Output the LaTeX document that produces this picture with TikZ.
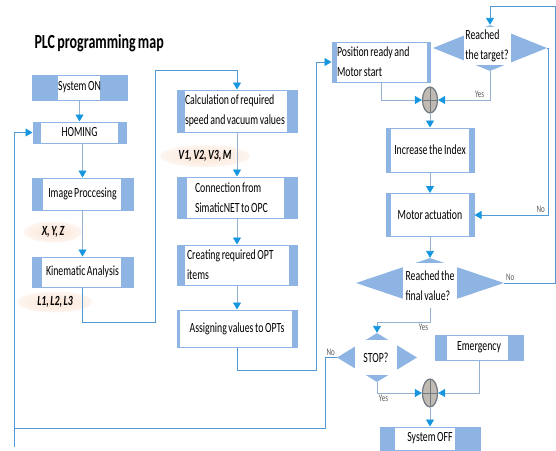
\documentclass[tikz,border=0pt]{standalone}
\usepackage{fontspec}
\setmainfont{Carlito}[FakeStretch=0.7, WordSpace=0.7]
\usetikzlibrary{arrows.meta, shapes.geometric, calc}
\definecolor{bandblue}{RGB}{142,180,227}
\definecolor{tipblue}{RGB}{22,150,222}
\definecolor{wiregray}{RGB}{150,176,210}
\definecolor{loopblue}{RGB}{82,152,214}
\definecolor{peach}{RGB}{251,228,212}
\definecolor{juncfill}{RGB}{192,186,178}
\definecolor{juncline}{RGB}{112,120,130}
\newcommand{\flowfont}{\fontsize{14}{20}\selectfont}

\begin{document}
\begin{tikzpicture}[x=1pt, y=-1pt, font=\flowfont,
    proc/.style 2 args={
        draw=bandblue, line width=1pt, fill=white, inner ysep=2pt,
        path picture={
            \fill[bandblue] (path picture bounding box.north west)
                rectangle ([xshift=#1]path picture bounding box.south west);
            \fill[bandblue] (path picture bounding box.north east)
                rectangle ([xshift=-#2]path picture bounding box.south east);
        }
    },
    decide/.style={diamond, fill=bandblue, inner sep=0pt},
    dtext/.style={fill=white, inner sep=1pt, align=flush left},
    junc/.style={
        ellipse, draw=juncline, line width=1.2pt, fill=juncfill,
        minimum width=15pt, minimum height=26pt, inner sep=0pt,
        path picture={
            \draw[juncline, line width=0.8pt] (path picture bounding box.north)
                -- (path picture bounding box.south);
            \draw[juncline, line width=0.8pt] (path picture bounding box.west)
                -- (path picture bounding box.east);
        }
    },
    tag/.style={ellipse, inner sep=0pt, inner color=peach, outer color=peach!35,
        font=\flowfont\bfseries\itshape},
    line/.style={wiregray, line width=0.9pt},
    signal/.style={line, -{Triangle[width=8pt, length=7pt, color=tipblue]}},
    backline/.style={signal, draw=loopblue},
    yn/.style={font=\fontsize{10}{12}\selectfont, text=black!65, inner sep=1.5pt},
]
\useasboundingbox (0,0) rectangle (556,450);

\node[anchor=base west, font=\fontsize{20}{24}\selectfont\bfseries] (title)
    at (31,48) {PLC programming map};

% --- left column: start up and vision ---
\node[proc={26pt}{27pt}, minimum width=95pt, minimum height=25pt] (son) at (79.5,87.5) {System ON};
\node[proc={8pt}{8pt}, minimum width=93pt, minimum height=21pt] (hom) at (79.5,132.5) {HOMING};
\node[proc={11pt}{12pt}, minimum width=101pt, minimum height=32pt] (img) at (82.5,194) {Image Proccesing};
\node[proc={10pt}{12pt}, minimum width=101pt, minimum height=30pt] (kin) at (82.5,272) {Kinematic Analysis};
\node[tag, minimum width=58pt, minimum height=21pt] (xyz) at (53,232) {X, Y, Z};
\node[tag, minimum width=75pt, minimum height=21pt] (lll) at (55,302) {L1, L2, L3};

% --- middle column: OPC link ---
\node[proc={8pt}{10pt}, text width=104pt, inner xsep=8pt, align=flush left, minimum height=42pt]
    (calc) at (237,111) {Calculation of required\\speed and vacuum values};
\node[tag, minimum width=90pt, minimum height=22pt] (vvv) at (205,156) {V1, V2, V3, M};
\node[proc={10pt}{13pt}, text width=84pt, inner xsep=18pt, align=flush left, minimum height=41pt]
    (conn) at (237,197.5) {Connection from\\SimaticNET to OPC};
\node[proc={8pt}{8pt}, text width=100pt, inner xsep=10pt, align=flush left, minimum height=40pt]
    (opt) at (237,265) {Creating required OPT\\items};
\node[proc={3pt}{5pt}, minimum width=120pt, minimum height=37pt] (asg) at (237,328.5) {Assigning values to OPTs};

% --- right column: motion loop ---
\node[proc={5pt}{3pt}, text width=88pt, inner xsep=5pt, align=flush left, minimum height=40pt]
    (pos) at (381,62) {Position ready and\\Motor start};
\node[decide, minimum width=114pt, minimum height=46pt] (target) at (490,48) {};
\node[dtext, minimum width=47pt, minimum height=38pt] (targetq) at (487,46) {Reached\\the target?};
\node[junc] (jn1) at (430,100) {};
\node[proc={5pt}{5pt}, minimum width=88pt, minimum height=44pt] (inc) at (430,150) {Increase the Index};
\node[proc={5pt}{5pt}, minimum width=88pt, minimum height=43pt] (mot) at (430,215) {Motor actuation};
\node[decide, minimum width=148pt, minimum height=50pt] (fin) at (430,283) {};
\node[dtext, minimum width=54pt, minimum height=46pt] (finq) at (430,286) {Reached the\\final value?};
\node[decide, minimum width=80pt, minimum height=49pt] (stop) at (377,357.5) {};
\node[dtext, minimum width=42pt, minimum height=35pt] (stopq) at (376,357.5) {STOP?};
\node[proc={12pt}{15pt}, minimum width=88pt, minimum height=25pt] (emg) at (479,347.5) {Emergency};
\node[junc, minimum height=28pt] (jn2) at (430,393) {};
\node[proc={15pt}{25pt}, minimum width=100pt, minimum height=23pt] (soff) at (430,438.5) {System OFF};

% --- turning points of the long returns ---
\coordinate (kdrop)   at (82.5,322);
\coordinate (ktop)    at (155,70);
\coordinate (adrop)   at (316,370);
\coordinate (rnear)   at (548,215);
\coordinate (rfar)    at (555,6);
\coordinate (fdrop)   at (377,322);
\coordinate (sdrop)   at (325,428);
\coordinate (lcorner) at (14,428);
\coordinate (lstub)   at (14,447);

% --- connectors ---
\draw[signal] (son) -- (hom);
\draw[signal] (hom.south -| img.north) -- (img.north);
\draw[signal] (img) -- (kin);
\draw[backline] (kin.south) -- (kdrop) -| (ktop) -| (calc.north);
\draw[signal] (calc) -- (conn);
\draw[signal] (conn) -- (opt);
\draw[signal] (opt) -- (asg);
\draw[backline] (asg.south) |- (adrop) |- (pos.west);

\draw[signal] (pos.south) |- (jn1.west);
\draw[signal] (target.south) |- (jn1.east) node[yn, pos=0.6, above] {Yes};
\draw[signal] (jn1) -- (inc);
\draw[signal] (inc) -- (mot);
\draw[signal] (mot) -- (fin);
\draw[backline] (target.east) -| (rnear) -- (mot.east) node[yn, pos=0.1, above] {No};
\draw[backline] (fin.east) node[yn, above right] {No} -| (rfar) -| (target.north);

\draw[signal] (fin.south) |- (fdrop) node[yn, pos=0.5, below left] {Yes} -- (stop.north);
\draw[backline] (stop.west) node[yn, above left] {No} -| (sdrop) -- (lcorner) |- (hom.west);
\draw[line, draw=loopblue] (lcorner) -- (lstub);
\draw[signal] (stop.south) |- (jn2.west) node[yn, pos=0.5, below right] {Yes};
\draw[signal] (emg.south) |- (jn2.east);
\draw[signal] (jn2) -- (soff);

\end{tikzpicture}
\end{document}
